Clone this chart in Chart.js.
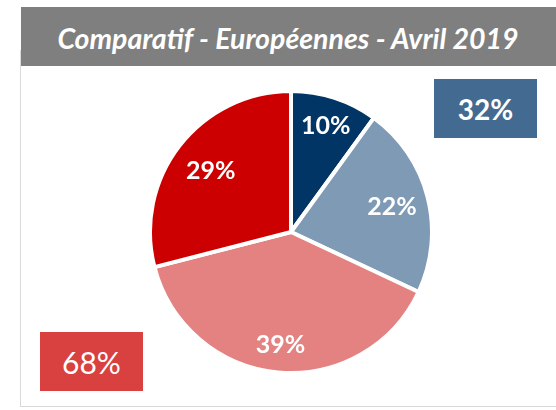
<!DOCTYPE html>
<html>
<head>
<meta charset="utf-8">
<script src="https://cdn.jsdelivr.net/npm/chart.js@4/dist/chart.umd.min.js"></script>
<style>
  html, body { margin:0; padding:0; background:#fff; width:556px; height:410px; overflow:hidden; font-family: Lato, "Open Sans", sans-serif; }
  #frame { position:absolute; left:20px; top:50px; width:600px; height:357px; border:1px solid #d9d9d9; box-sizing:border-box; }
  #title { position:absolute; left:21px; top:7px; width:540px; height:59px; background:#7f7f7f; color:#fff;
           font: italic bold 28.5px Lato, "Open Sans", sans-serif; display:flex; align-items:center; justify-content:center; }
  #title span { position:relative; left:-3px; top:1px; }
  .box { position:absolute; color:#fff; display:flex; align-items:center; justify-content:center; }
  #boxA { left:434px; top:79px; width:103px; height:59px; background:#436a91; font: bold 28px Lato, sans-serif; }
  #boxB { left:40px; top:332px; width:103px; height:59px; background:#d94040; font: 30px Lato, sans-serif; }
  #wrap { position:absolute; left:148px; top:89px; width:286px; height:286px; }
</style>
</head>
<body>
<div id="frame"></div>
<div id="title"><span id="titleText"></span></div>
<div class="box" id="boxA"></div>
<div class="box" id="boxB"></div>
<div id="wrap"><canvas id="c"></canvas></div>
<script>
const titleText = "Comparatif - Européennes - Avril 2019";
const categories = ["Groupe 1", "Groupe 2", "Groupe 3", "Groupe 4"];
const shares = [10, 22, 39, 29];
const sliceColors = ["#013565", "#7f9ab5", "#e48181", "#cc0000"];
const summaryLabels = ["32%", "68%"];

document.getElementById('titleText').textContent = titleText;
document.getElementById('boxA').textContent = summaryLabels[0];
document.getElementById('boxB').textContent = summaryLabels[1];

const labelRadius = [0.8, 0.74, 0.8, 0.72];
const labelPlugin = {
  id: 'sliceLabels',
  afterDatasetsDraw(chart) {
    const ctx = chart.ctx;
    const meta = chart.getDatasetMeta(0);
    ctx.save();
    ctx.fillStyle = '#fff';
    ctx.font = 'bold 25px Lato, "Open Sans", sans-serif';
    ctx.textAlign = 'center';
    ctx.textBaseline = 'middle';
    meta.data.forEach((arc, i) => {
      const p = arc.getProps(['x','y','startAngle','endAngle','outerRadius'], true);
      const mid = (p.startAngle + p.endAngle) / 2;
      const r = p.outerRadius * labelRadius[i];
      ctx.fillText(shares[i] + '%', p.x + Math.cos(mid) * r, p.y + Math.sin(mid) * r + 1);
    });
    ctx.restore();
  }
};

new Chart(document.getElementById('c'), {
  type: 'pie',
  data: {
    labels: categories,
    datasets: [{
      data: shares,
      backgroundColor: sliceColors,
      borderColor: '#ffffff',
      borderWidth: 4
    }]
  },
  options: {
    responsive: true,
    maintainAspectRatio: false,
    animation: false,
    plugins: { legend: { display: false }, tooltip: { enabled: false } },
    layout: { padding: 0 }
  },
  plugins: [labelPlugin]
});
</script>
</body>
</html>
